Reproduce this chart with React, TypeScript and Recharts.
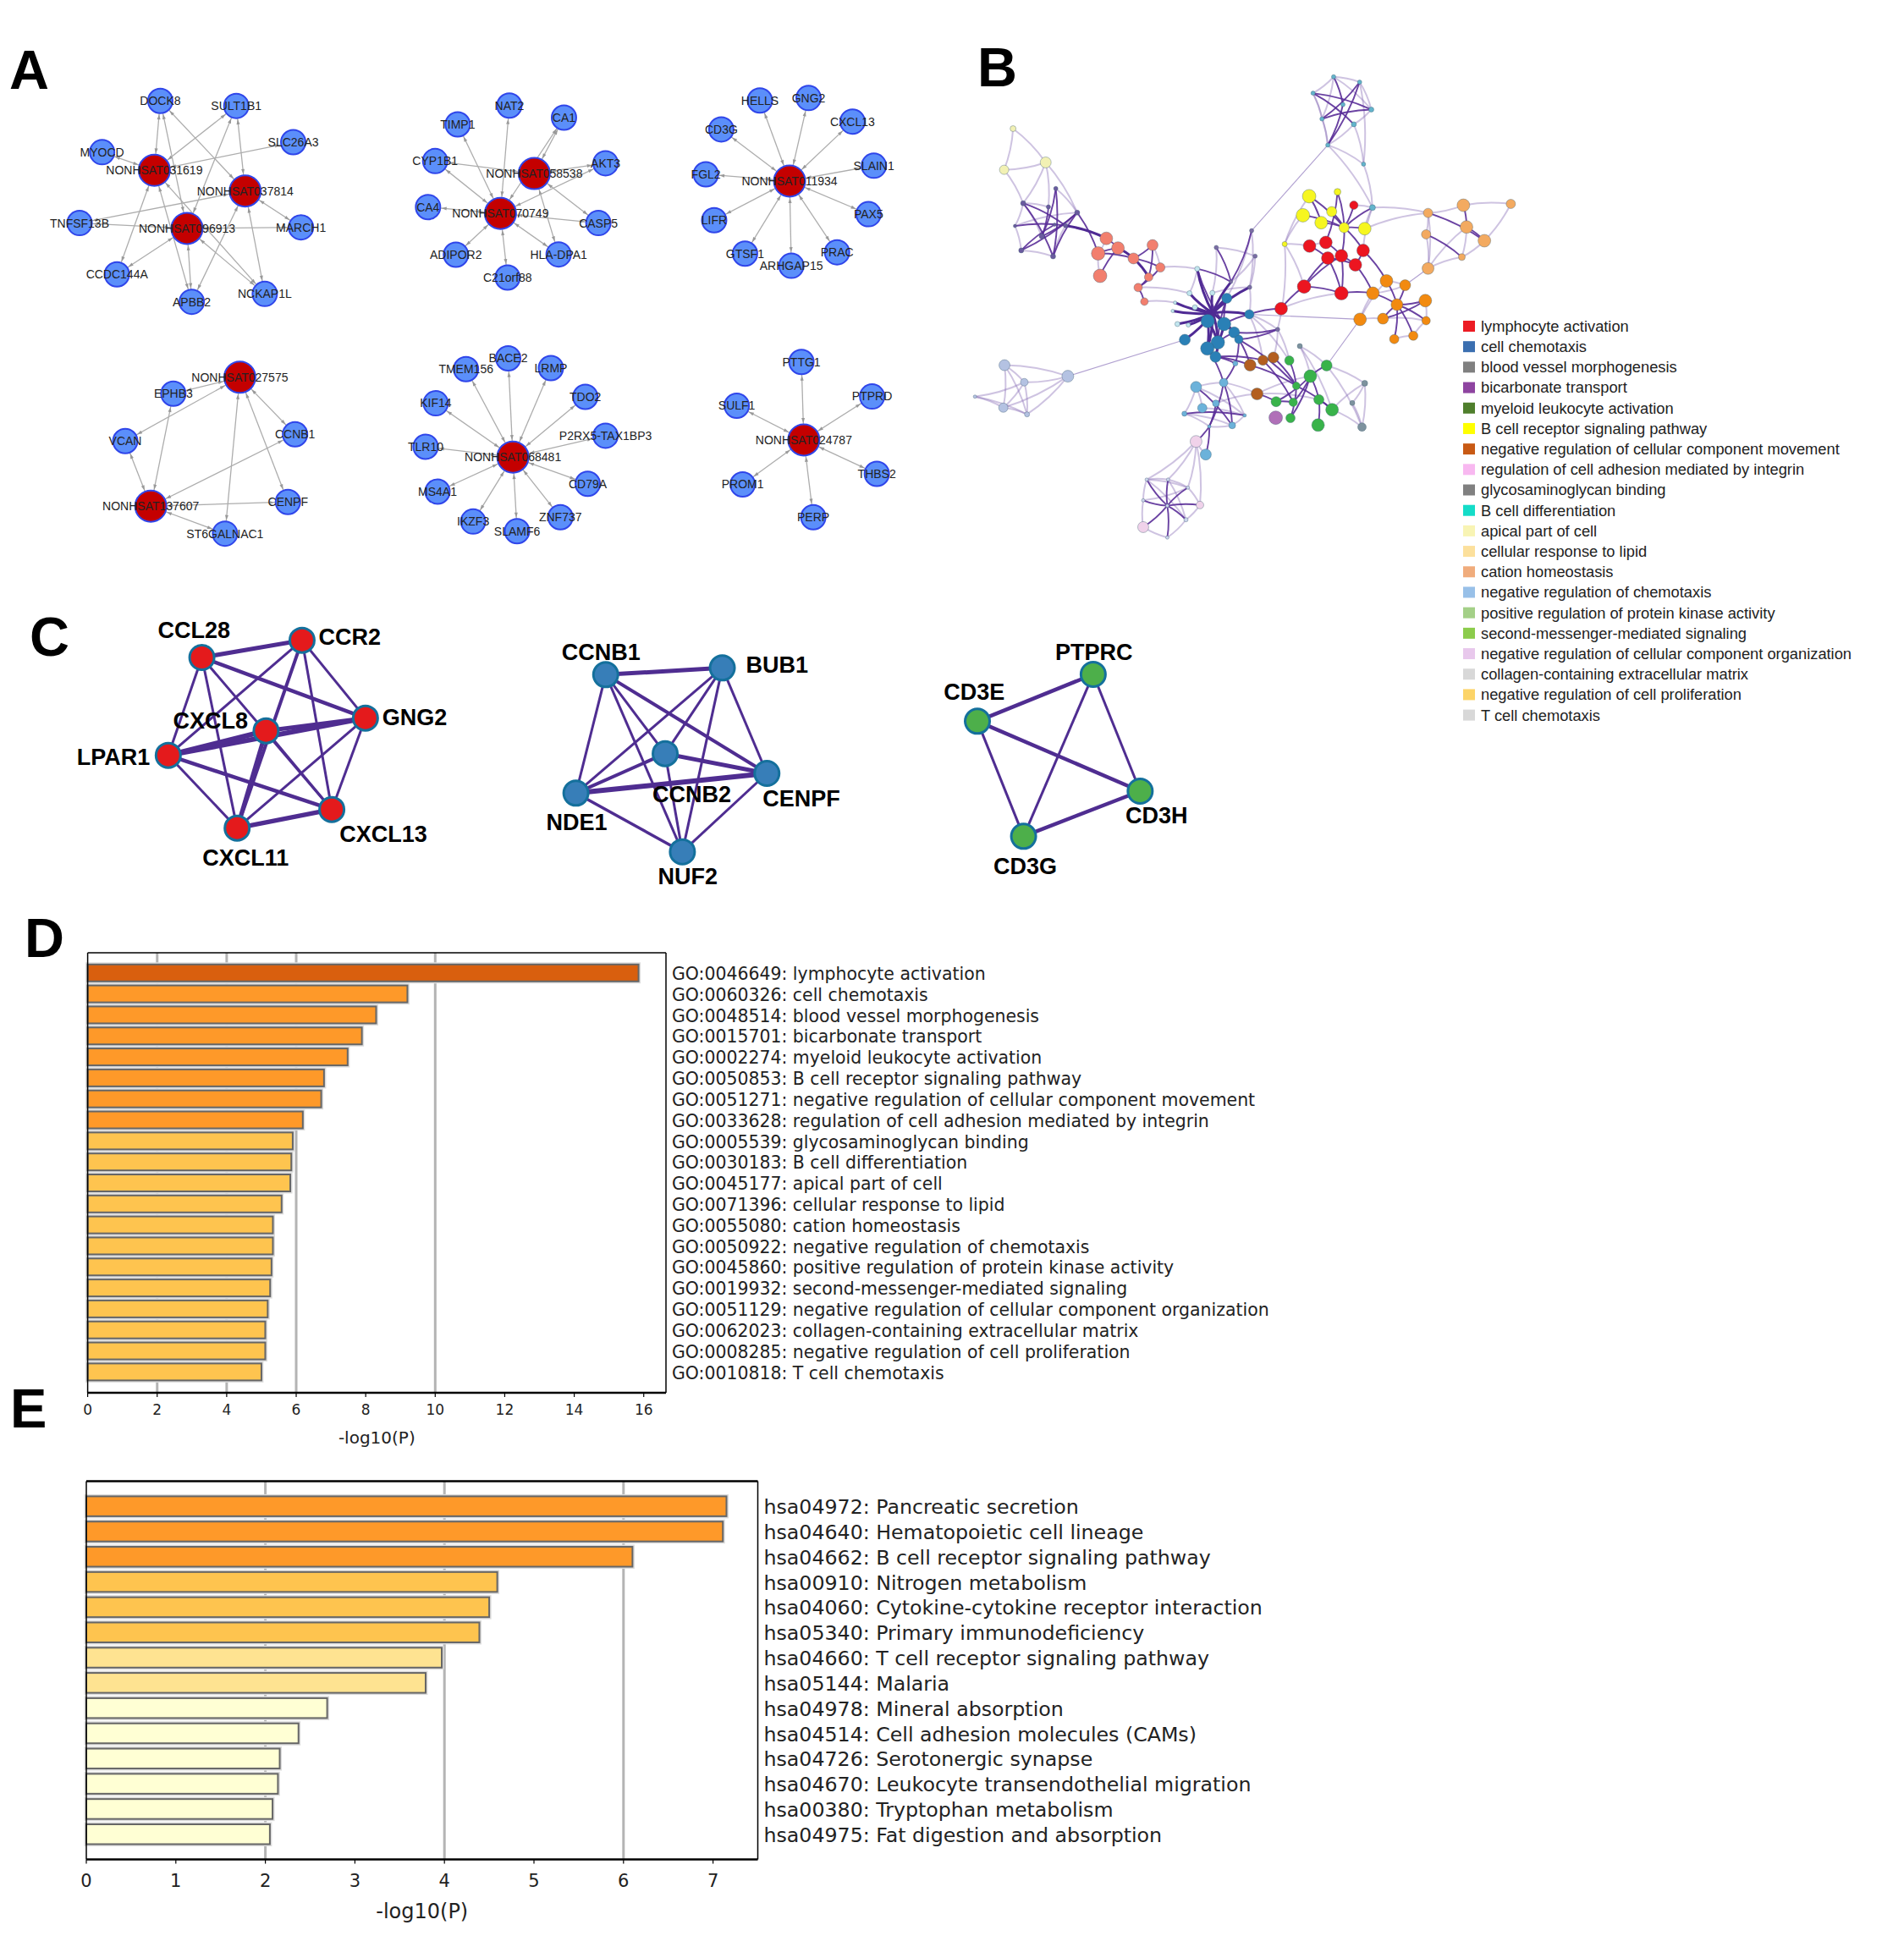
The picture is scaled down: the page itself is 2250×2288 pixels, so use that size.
import React from "react";
import {
  BarChart,
  Bar,
  Cell,
  CartesianGrid,
  XAxis,
  YAxis,
  ScatterChart,
  Scatter,
  ReferenceLine,
} from "recharts";

const SANS = "'Liberation Sans', Arial, sans-serif";
const DEJAVU = "'DejaVu Sans', sans-serif";

// ---- panel A: lncRNA / mRNA networks (name, x, y in layout units)
type Pt = [string, number, number];

const aLncRna: Pt[] = [
  ["NONHSAT031619", 260, 407],
  ["NONHSAT037814", 413, 465],
  ["NONHSAT096913", 315, 570],
  ["NONHSAT058538", 900, 416],
  ["NONHSAT070749", 843, 528],
  ["NONHSAT011934", 1330, 437],
  ["NONHSAT027575", 404, 988],
  ["NONHSAT137607", 254, 1350],
  ["NONHSAT068481", 864, 1212],
  ["NONHSAT024787", 1354, 1164],
];

const aGenes: Pt[] = [
  ["DOCK8", 270, 212],
  ["SULT1B1", 398, 226],
  ["SLC26A3", 494, 328],
  ["MYOCD", 172, 356],
  ["TNFSF13B", 134, 555],
  ["MARCH1", 507, 567],
  ["CCDC144A", 197, 699],
  ["APBB2", 323, 776],
  ["NCKAP1L", 446, 754],
  ["TIMP1", 771, 278],
  ["NAT2", 858, 225],
  ["CA1", 950, 259],
  ["CYP1B1", 733, 381],
  ["AKT3", 1020, 387],
  ["CA4", 721, 510],
  ["CASP5", 1008, 555],
  ["ADIPOR2", 768, 644],
  ["HLA-DPA1", 941, 643],
  ["C21orf88", 855, 708],
  ["HELLS", 1280, 211],
  ["GNG2", 1362, 204],
  ["CD3G", 1215, 292],
  ["CXCL13", 1436, 270],
  ["FGL2", 1189, 418],
  ["SLAIN1", 1472, 394],
  ["LIFR", 1203, 547],
  ["PAX5", 1463, 530],
  ["GTSF1", 1255, 641],
  ["ARHGAP15", 1333, 675],
  ["PRAC", 1410, 637],
  ["EPHB3", 292, 1034],
  ["VCAN", 211, 1167],
  ["CCNB1", 497, 1148],
  ["CENPF", 485, 1338],
  ["ST6GALNAC1", 379, 1427],
  ["BACE2", 856, 935],
  ["TMEM156", 785, 965],
  ["LRMP", 928, 962],
  ["TDO2", 986, 1043],
  ["KIF14", 734, 1061],
  ["TLR10", 717, 1183],
  ["P2RX5-TAX1BP3", 1020, 1152],
  ["CD79A", 990, 1287],
  ["MS4A1", 737, 1309],
  ["IKZF3", 797, 1393],
  ["SLAMF6", 871, 1420],
  ["ZNF737", 944, 1381],
  ["PTTG1", 1350, 945],
  ["PTPRD", 1469, 1042],
  ["SULF1", 1241, 1068],
  ["THBS2", 1477, 1259],
  ["PROM1", 1251, 1289],
  ["PERP", 1370, 1381],
];

// each lncRNA with the genes it links to
const aLinks: [string, string[]][] = [
  ["NONHSAT031619", ["DOCK8", "SULT1B1", "SLC26A3", "MYOCD", "CCDC144A", "APBB2", "NCKAP1L"]],
  ["NONHSAT037814", ["DOCK8", "SULT1B1", "TNFSF13B", "MARCH1", "APBB2", "NCKAP1L"]],
  ["NONHSAT096913", ["DOCK8", "SULT1B1", "TNFSF13B", "MARCH1", "CCDC144A", "APBB2", "NCKAP1L"]],
  ["NONHSAT058538", ["CA1", "CYP1B1", "AKT3", "CASP5", "HLA-DPA1"]],
  ["NONHSAT070749", ["TIMP1", "NAT2", "CA1", "CYP1B1", "AKT3", "CA4", "CASP5", "ADIPOR2", "HLA-DPA1", "C21orf88"]],
  ["NONHSAT011934", ["HELLS", "GNG2", "CD3G", "CXCL13", "FGL2", "SLAIN1", "LIFR", "PAX5", "GTSF1", "ARHGAP15", "PRAC"]],
  ["NONHSAT027575", ["EPHB3", "VCAN", "CCNB1", "CENPF", "ST6GALNAC1"]],
  ["NONHSAT137607", ["EPHB3", "VCAN", "CCNB1", "CENPF", "ST6GALNAC1"]],
  ["NONHSAT068481", ["BACE2", "TMEM156", "LRMP", "TDO2", "KIF14", "TLR10", "P2RX5-TAX1BP3", "CD79A", "MS4A1", "IKZF3", "SLAMF6", "ZNF737"]],
  ["NONHSAT024787", ["PTTG1", "PTPRD", "SULF1", "THBS2", "PROM1", "PERP"]],
];

// ---- panel B: enrichment network, one small list per term group (x, y, radius)
type BN = [number, number, number];
const bTop: BN[] = [[993,103,2.5],[1060,119,2.5],[940,152,2.5],[1090,201,3],[1017,186,2.5],[963,229,2.5],[1045,245,3],[978,307,2.5],[1070,364,2.5],[1093,494,3.5]];
const bPale: BN[] = [[168,258,3.5],[252,359,6.5],[145,381,5.5]];
const bSlate: BN[] = [[278,437,2.5],[194,481,3],[259,492,2.5],[333,509,3],[173,549,2],[303,548,2.5],[242,580,3],[189,622,3],[271,640,3],[275,545,2]];
const bSalmon: BN[] = [[408,586,7.5],[438,615,7.5],[527,606,6.5],[387,631,8],[478,646,6.5],[547,673,5.5],[392,698,8],[517,702,5],[490,733,5],[506,775,4.5]];
const bLight: BN[] = [[642,677,3],[622,750,3],[681,749,3],[636,792,3],[585,778,2],[579,803,2],[591,842,3],[619,845,2.5]];
const bBlue: BN[] = [[718,765,6],[776,813,5.5],[669,833,8],[711,842,8],[737,867,6.5],[749,888,5],[610,889,6.5],[695,897,8],[668,915,8],[689,940,6.5]];
const bPurple: BN[] = [[782,563,2.5],[691,613,2.5],[791,639,2.5],[729,716,2],[777,732,2.5],[849,858,2.5]];
const bRed: BN[] = [[1045,487,5],[931,609,7.5],[973,598,7.5],[978,645,7.5],[1013,638,7.5],[1069,622,7.5],[1049,665,7.5],[917,730,8],[1013,750,8],[858,796,7.5]];
const bYellow: BN[] = [[930,460,8],[1003,447,4],[914,517,8],[988,506,6],[961,539,7.5],[1020,554,6],[1073,557,7.5],[867,603,3]];
const bTan: BN[] = [[1327,487,7.5],[1449,483,5.5],[1236,510,5.5],[1335,552,7.5],[1231,574,5.5],[1381,593,7.5],[1323,642,4],[1236,676,7]];
const bOrange: BN[] = [[1129,713,7.5],[1177,726,6.5],[1094,750,7.5],[1156,784,7],[1229,772,7.5],[1061,828,7.5],[1120,826,6.5],[1231,832,5],[1149,887,5.5],[1198,877,5.5]];
const bBrown: BN[] = [[778,965,7],[811,950,6],[838,942,6.5],[796,1051,7]];
const bGreen: BN[] = [[879,951,5.5],[975,966,6.5],[933,998,7.5],[897,1027,4.5],[845,1074,6],[889,1076,5],[955,1068,6],[989,1098,7.5],[882,1123,5.5],[953,1144,7.5]];
const bViolet: BN[] = [[844,1122,8]];
const bGray: BN[] = [[906,908,3],[1073,1019,3.5],[1041,1078,3],[1066,1150,5]];
const bLavender: BN[] = [[146,965,6.5],[309,998,7],[197,1016,4.5],[70,1059,2],[143,1092,5.5],[204,1112,3]];
const bSky: BN[] = [[639,1030,6.5],[710,1017,5],[655,1093,5.5],[690,1079,4],[609,1110,3],[764,1115,2],[732,1145,4],[673,1148,2],[740,960,3],[664,1232,6.5]];
const bPink: BN[] = [[639,1193,7],[649,1383,4.5],[503,1449,6.5]];
const bMist: BN[] = [[512,1307,2],[567,1307,2],[618,1331,2],[503,1369,2],[565,1385,2],[613,1427,2.5],[565,1480,2]];
// the point where the central bundle of edges meets
const bCore: BN[] = [[682,809,0]];

const bGroups: [string, BN[], string][] = [
  ["T", bTop, "#63b4cc"],
  ["Y", bPale, "#f2f1b4"],
  ["L", bSlate, "#6a5a9f"],
  ["S", bSalmon, "#f27f6e"],
  ["W", bLight, "#c2e6ee"],
  ["B", bBlue, "#2a80b6"],
  ["P", bPurple, "#7c6ca4"],
  ["R", bRed, "#ec1520"],
  ["G", bYellow, "#f6f620"],
  ["A", bTan, "#f3aa60"],
  ["O", bOrange, "#f28a10"],
  ["N", bBrown, "#b35f20"],
  ["E", bGreen, "#39b34a"],
  ["V", bViolet, "#b070b8"],
  ["K", bGray, "#7d929e"],
  ["I", bLavender, "#b4c2e2"],
  ["D", bSky, "#6cb2da"],
  ["H", bPink, "#f0d2ea"],
  ["M", bMist, "#ccd4ec"],
  ["X", bCore, "#4b2a90"],
];

const bHeavy =
  "X0-W0 X0-W1 X0-W2 X0-W3 X0-W4 X0-W5 X0-W6 X0-W7 X0-B0 X0-B1 X0-B2 X0-B3 X0-B4 X0-B7 X0-B6 X0-P3 X0-P4 " +
  "X0-B8 B3-B7 B2-B7 B2-B8 B7-B9 L5-S0 S1-S4 S4-S7";

const bStrong =
  "T0-T4 T2-T3 T4-T7 T1-T5 T1-T7 T2-T6 T5-T3 " +
  "L0-L8 L1-L5 L4-L5 L1-L8 L3-L7 L2-L6 L3-L6 L0-L6 L7-L9 L8-L3 L3-S3 " +
  "S0-S1 S3-S1 S6-S1 S4-S5 S2-S7 S2-S4 S5-S8 S7-S8 S8-S9 S3-S4 " +
  "B3-B0 B3-W0 B3-B5 B3-B1 B7-B4 B7-B0 W0-P3 P0-P3 P1-P3 " +
  "B1-R9 R9-R7 R7-R3 R7-R4 R7-R8 R3-R8 R2-R4 R4-R6 R1-R3 R3-R6 R5-R6 R6-O2 R8-O2 R5-O0 R4-R8 " +
  "G1-G5 G0-G5 G2-G5 G4-G5 G5-G6 G5-T9 G3-G5 G5-R4 G5-R5 G0-G4 G1-R2 R0-G5 " +
  "A0-A3 A2-A5 A4-A6 A3-A5 " +
  "O0-O3 O1-O3 O2-O3 O4-O6 O3-O8 O3-O9 O3-O7 O4-O3 O6-O3 " +
  "N0-E3 N1-E5 N2-E3 N3-E4 E2-E1 E2-E4 E2-E5 E2-E8 E2-E6 E6-E9 E3-E8 E4-E5 E6-E7 E3-E7 E0-E3 B9-N0 B9-N1 B5-N0 B5-E3 P5-B4 P5-B5 " +
  "D1-D7 D4-D5 D3-D7 D0-D6 D1-D6 D7-D9 D8-D1 B9-D8 B8-D1 B5-D8 D7-H0 " +
  "M4-M0 M4-M1 M4-M2 M4-M3 M4-H1 M4-M5 M4-H2 M4-M6";

const bWeak =
  "T0-T1 T0-T2 T1-T3 T2-T5 T3-T6 T5-T7 T6-T7 T6-T8 T1-T8 T7-T8 T7-T9 T8-T9 T0-T5 T0-T3 T2-T7 " +
  "Y1-Y2 Y0-Y1 Y0-Y2 Y1-L3 Y1-L1 Y2-L1 Y1-L2 " +
  "L1-L4 L4-L7 L7-L8 L8-L5 L5-L3 L0-L3 L1-L2 L1-L6 L4-L3 " +
  "S2-S5 S6-S3 S0-S3 S5-W0 S8-W1 S9-W4 " +
  "P0-P4 P1-P2 P2-P3 P2-P4 W0-W1 W2-P4 P1-W2 P4-B1 P0-B0 " +
  "R9-R8 G7-G0 G7-G2 G7-R1 G7-R7 G7-P5 R0-T9 G6-T9 R5-T9 R1-R2 " +
  "T9-A2 G6-A2 A0-A2 A0-A1 A1-A5 A2-A4 A4-A7 A2-A7 A7-A3 A7-A6 A3-A6 A5-A6 " +
  "O5-O0 O5-O2 O5-O6 O6-O7 O8-O9 O9-O7 O4-O7 O0-O1 O1-O2 " +
  "P5-N2 B1-P5 B1-N1 B1-E0 P5-E0 " +
  "K0-E1 E1-K1 E1-K3 E7-K1 K1-K3 K1-K2 K2-K3 E7-K3 K0-E2 K0-E7 N3-E2 N3-E6 " +
  "I0-I1 I0-I2 I0-I4 I0-I5 I1-I2 I1-I4 I1-I5 I2-I3 I2-I4 I2-I5 I3-I4 I3-I5 I4-I5 " +
  "D0-D1 D0-D4 D0-D2 D2-D5 D4-D7 D6-D7 D5-D6 D1-N3 D3-N3 D0-D5 D1-D5 D4-D6 " +
  "H0-M1 H0-M0 H0-M2 H0-H1 D9-H0 " +
  "M0-M1 M1-M2 M2-H1 H1-M5 M5-M6 M6-H2 H2-M3 M3-M0 M0-M5 M1-M5 M2-M3 M0-M2";

// long thin links between clusters, these run nearly straight
const bBridges = "T7-P0 I1-B6 B1-O5 O5-E1 A7-O1";

// ---- panel B legend
const legendTerms = [
  "lymphocyte activation",
  "cell chemotaxis",
  "blood vessel morphogenesis",
  "bicarbonate transport",
  "myeloid leukocyte activation",
  "B cell receptor signaling pathway",
  "negative regulation of cellular component movement",
  "regulation of cell adhesion mediated by integrin",
  "glycosaminoglycan binding",
  "B cell differentiation",
  "apical part of cell",
  "cellular response to lipid",
  "cation homeostasis",
  "negative regulation of chemotaxis",
  "positive regulation of protein kinase activity",
  "second-messenger-mediated signaling",
  "negative regulation of cellular component organization",
  "collagen-containing extracellular matrix",
  "negative regulation of cell proliferation",
  "T cell chemotaxis",
];
const legendColors = [
  "#ec1c24", "#3b6fb0", "#808080", "#8e44a0", "#4f7f2c",
  "#ffff00", "#c85a14", "#f8b8f0", "#808080", "#14dcc8",
  "#f8f4b4", "#fce09c", "#f0ac7c", "#98c0e8", "#a4d088",
  "#8ccc4c", "#e8c8ec", "#d8d8d8", "#fcd468", "#d8d8d8",
];

// ---- panel C: PPI modules (name, x, y, label x, label y)
type CN = [string, number, number, number, number];
const cRedNodes: CN[] = [
  ["CCL28", 258, 231, 248, 135],
  ["CCR2", 386, 170, 447, 158],
  ["GNG2", 467, 446, 530, 442],
  ["CXCL8", 340, 491, 269, 455],
  ["LPAR1", 215, 578, 145, 585],
  ["CXCL11", 303, 836, 314, 940],
  ["CXCL13", 424, 770, 490, 857],
];
const cBlueNodes: CN[] = [
  ["CCNB1", 774, 292, 768, 212],
  ["BUB1", 923, 268, 993, 258],
  ["CCNB2", 850, 572, 884, 716],
  ["CENPF", 980, 642, 1024, 730],
  ["NDE1", 736, 712, 737, 816],
  ["NUF2", 872, 920, 879, 1007],
];
const cGreenNodes: CN[] = [
  ["PTPRC", 1397, 291, 1398, 211],
  ["CD3E", 1249, 457, 1245, 354],
  ["CD3H", 1457, 705, 1478, 792],
  ["CD3G", 1308, 865, 1310, 970],
];
const cEdges: [string, string, number][] = [
  ["CCL28", "CCR2", 5], ["CCL28", "GNG2", 4.5], ["CCL28", "LPAR1", 3], ["CCL28", "CXCL11", 3], ["CCL28", "CXCL13", 3],
  ["CCR2", "LPAR1", 3], ["CCR2", "CXCL11", 4], ["CCR2", "GNG2", 3], ["CCR2", "CXCL13", 3],
  ["GNG2", "CXCL8", 5], ["GNG2", "LPAR1", 6], ["GNG2", "CXCL11", 3], ["GNG2", "CXCL13", 3],
  ["CXCL8", "LPAR1", 6], ["CXCL8", "CXCL11", 5], ["CXCL8", "CXCL13", 3],
  ["LPAR1", "CXCL11", 3], ["LPAR1", "CXCL13", 4.5], ["CXCL11", "CXCL13", 5.5],
  ["CCNB1", "BUB1", 5], ["CCNB1", "CENPF", 4], ["CCNB1", "NDE1", 3], ["CCNB1", "CCNB2", 3], ["CCNB1", "NUF2", 3],
  ["BUB1", "NDE1", 3], ["BUB1", "CCNB2", 3], ["BUB1", "CENPF", 3], ["BUB1", "NUF2", 3],
  ["CCNB2", "NDE1", 4], ["CCNB2", "CENPF", 5], ["CCNB2", "NUF2", 3],
  ["CENPF", "NDE1", 6], ["CENPF", "NUF2", 3], ["NDE1", "NUF2", 3.5],
  ["CD3E", "PTPRC", 4.5], ["CD3E", "CD3H", 4.5], ["CD3E", "CD3G", 3],
  ["PTPRC", "CD3G", 3], ["PTPRC", "CD3H", 3], ["CD3G", "CD3H", 4.5],
];

// ---- panel D
const goLabels = [
  "GO:0046649: lymphocyte activation",
  "GO:0060326: cell chemotaxis",
  "GO:0048514: blood vessel morphogenesis",
  "GO:0015701: bicarbonate transport",
  "GO:0002274: myeloid leukocyte activation",
  "GO:0050853: B cell receptor signaling pathway",
  "GO:0051271: negative regulation of cellular component movement",
  "GO:0033628: regulation of cell adhesion mediated by integrin",
  "GO:0005539: glycosaminoglycan binding",
  "GO:0030183: B cell differentiation",
  "GO:0045177: apical part of cell",
  "GO:0071396: cellular response to lipid",
  "GO:0055080: cation homeostasis",
  "GO:0050922: negative regulation of chemotaxis",
  "GO:0045860: positive regulation of protein kinase activity",
  "GO:0019932: second-messenger-mediated signaling",
  "GO:0051129: negative regulation of cellular component organization",
  "GO:0062023: collagen-containing extracellular matrix",
  "GO:0008285: negative regulation of cell proliferation",
  "GO:0010818: T cell chemotaxis",
];
const goValues = [15.85, 9.2, 8.3, 7.89, 7.48, 6.8, 6.72, 6.19, 5.9, 5.86, 5.83, 5.58, 5.33, 5.33, 5.29, 5.25, 5.18, 5.11, 5.11, 5.0];
const goColors = [
  "#d95f0e", "#fe9929", "#fe9929", "#fe9929", "#fe9929", "#fe9929", "#fe9929", "#fe9929",
  "#fec44f", "#fec44f", "#fec44f", "#fec44f", "#fec44f", "#fec44f", "#fec44f", "#fec44f", "#fec44f", "#fec44f", "#fec44f", "#fec44f",
];
const goTicks = [0, 2, 4, 6, 8, 10, 12, 14, 16];
const goGrid = [2, 4, 6, 10];

// ---- panel E
const keggLabels = [
  "hsa04972: Pancreatic secretion",
  "hsa04640: Hematopoietic cell lineage",
  "hsa04662: B cell receptor signaling pathway",
  "hsa00910: Nitrogen metabolism",
  "hsa04060: Cytokine-cytokine receptor interaction",
  "hsa05340: Primary immunodeficiency",
  "hsa04660: T cell receptor signaling pathway",
  "hsa05144: Malaria",
  "hsa04978: Mineral absorption",
  "hsa04514: Cell adhesion molecules (CAMs)",
  "hsa04726: Serotonergic synapse",
  "hsa04670: Leukocyte transendothelial migration",
  "hsa00380: Tryptophan metabolism",
  "hsa04975: Fat digestion and absorption",
];
const keggValues = [7.15, 7.11, 6.1, 4.59, 4.5, 4.39, 3.97, 3.79, 2.69, 2.37, 2.16, 2.14, 2.08, 2.05];
const keggColors = [
  "#fe9929", "#fe9929", "#fe9929", "#fec44f", "#fec44f", "#fec44f", "#fee391",
  "#fee391", "#ffffd4", "#ffffd4", "#ffffd4", "#ffffd4", "#ffffd4", "#ffffd4",
];
const keggTicks = [0, 1, 2, 3, 4, 5, 6, 7];
const keggGrid = [2, 4, 6];

const panelLetters: [string, number, number][] = [
  ["A", 11, 105],
  ["B", 1155, 102],
  ["C", 35, 775],
  ["D", 29, 1131],
  ["E", 12, 1687],
];

// curved purple edge of the enrichment map
const CurvedEdge = (p: any) => {
  const mx = (p.x1 + p.x2) / 2 + (p.y2 - p.y1) * 0.08;
  const my = (p.y1 + p.y2) / 2 - (p.x2 - p.x1) * 0.08;
  return (
    <path
      d={`M${p.x1},${p.y1} Q${mx},${my} ${p.x2},${p.y2}`}
      fill="none"
      stroke={p.stroke}
      strokeWidth={p.strokeWidth}
      strokeOpacity={p.strokeOpacity}
    />
  );
};

// grey edge with the small arrow heads Cytoscape leaves at both nodes
const ArrowEdge = (p: any) => {
  const dx = p.x2 - p.x1;
  const dy = p.y2 - p.y1;
  const len = Math.hypot(dx, dy) || 1;
  const ux = dx / len;
  const uy = dy / len;
  const head = (tipX: number, tipY: number, dir: number) => {
    const bx = tipX - dir * ux * 6;
    const by = tipY - dir * uy * 6;
    return `${tipX},${tipY} ${bx - uy * 2},${by + ux * 2} ${bx + uy * 2},${by - ux * 2}`;
  };
  return (
    <g>
      <line x1={p.x1} y1={p.y1} x2={p.x2} y2={p.y2} stroke="#adadad" strokeWidth={1.3} />
      <polygon points={head(p.x1 + ux * 20, p.y1 + uy * 20, -1)} fill="#999" />
      <polygon points={head(p.x2 - ux * 16, p.y2 - uy * 16, 1)} fill="#999" />
    </g>
  );
};

const PanelA = () => {
  const pos = new Map<string, Pt>();
  [...aLncRna, ...aGenes].forEach((n) => pos.set(n[0], n));
  const toPoint = (n: Pt) => ({ name: n[0], x: n[1], y: n[2] });
  const node = (fill: string, r: number) => (p: any) =>
    <circle cx={p.cx} cy={p.cy} r={r} fill={fill} stroke="#2f45ea" strokeWidth={2} />;
  const nodeLabel = (p: any) => (
    <text x={p.cx} y={p.cy} dy="0.35em" textAnchor="middle" fontFamily={SANS} fontSize={14} fill="#222">
      {p.payload.name}
    </text>
  );
  return (
    <ScatterChart width={1100} height={660} margin={{ top: 0, right: 0, bottom: 0, left: 0 }}>
      <XAxis type="number" dataKey="x" domain={[0, 1568]} hide />
      <YAxis type="number" dataKey="y" domain={[0, 1568]} reversed hide />
      {aLinks.flatMap(([hub, genes]) =>
        genes.map((g) => {
          const a = pos.get(hub)!;
          const b = pos.get(g)!;
          return (
            <ReferenceLine
              key={hub + g}
              segment={[{ x: a[1], y: a[2] }, { x: b[1], y: b[2] }]}
              shape={ArrowEdge}
            />
          );
        })
      )}
      <Scatter data={aGenes.map(toPoint)} shape={node("#5b8ffa", 14.5)} isAnimationActive={false} />
      <Scatter data={aLncRna.map(toPoint)} shape={node("#c40000", 18.5)} isAnimationActive={false} />
      <Scatter data={[...aGenes, ...aLncRna].map(toPoint)} shape={nodeLabel} isAnimationActive={false} />
    </ScatterChart>
  );
};

const PanelB = () => {
  const pos = new Map<string, BN>();
  bGroups.forEach(([prefix, list]) => list.forEach((n, i) => pos.set(prefix + i, n)));
  const lines = (edges: string, stroke: string, width: number, opacity: number, curved = true) =>
    edges.split(" ").map((e) => {
      const [a, b] = e.split("-");
      const pa = pos.get(a)!;
      const pb = pos.get(b)!;
      return (
        <ReferenceLine
          key={e + width}
          segment={[{ x: pa[0], y: pa[1] }, { x: pb[0], y: pb[1] }]}
          stroke={stroke}
          strokeWidth={width}
          strokeOpacity={opacity}
          shape={curved ? CurvedEdge : undefined}
        />
      );
    });
  const node = (fill: string) => (p: any) =>
    <circle cx={p.cx} cy={p.cy} r={p.payload.r} fill={fill} stroke="#3f5f70" strokeOpacity={0.55} strokeWidth={0.7} />;
  return (
    <ScatterChart width={720} height={620} margin={{ top: 0, right: 0, bottom: 0, left: 0 }}>
      <XAxis type="number" dataKey="x" domain={[0, 1568]} hide />
      <YAxis type="number" dataKey="y" domain={[0, 1568]} reversed hide />
      {lines(bBridges, "#9c88c4", 1.1, 0.8, false)}
      {lines(bWeak, "#8a70b8", 2, 0.42)}
      {lines(bStrong, "#5a2e98", 1.9, 0.9)}
      {lines(bHeavy, "#4f2a94", 3, 1)}
      {bGroups.filter((g) => g[0] !== "X").map(([prefix, list, fill]) => (
        <Scatter
          key={prefix}
          data={list.map((n) => ({ x: n[0], y: n[1], r: n[2] }))}
          shape={node(fill)}
          isAnimationActive={false}
        />
      ))}
    </ScatterChart>
  );
};

const PanelC = () => {
  const pos = new Map<string, CN>();
  [...cRedNodes, ...cBlueNodes, ...cGreenNodes].forEach((n) => pos.set(n[0], n));
  const toPoint = (n: CN) => ({ x: n[1], y: n[2] });
  const node = (fill: string) => (p: any) =>
    <circle cx={p.cx} cy={p.cy} r={14.5} fill={fill} stroke="#14709c" strokeWidth={3} />;
  const nodeLabel = (p: any) => (
    <text x={p.cx} y={p.cy} dy="0.35em" textAnchor="middle" fontFamily={SANS} fontWeight="bold" fontSize={27} fill="#000">
      {p.payload.name}
    </text>
  );
  const labels = [...cRedNodes, ...cBlueNodes, ...cGreenNodes].map((n) => ({ name: n[0], x: n[3], y: n[4] }));
  return (
    <ScatterChart width={1450} height={360} margin={{ top: 0, right: 0, bottom: 0, left: 0 }}>
      <XAxis type="number" dataKey="x" domain={[0, 1568]} hide />
      <YAxis type="number" dataKey="y" domain={[0, 1080]} reversed hide />
      {cEdges.map(([a, b, w]) => {
        const pa = pos.get(a)!;
        const pb = pos.get(b)!;
        return (
          <ReferenceLine
            key={a + b}
            segment={[{ x: pa[1], y: pa[2] }, { x: pb[1], y: pb[2] }]}
            stroke="#4f2d91"
            strokeWidth={w}
          />
        );
      })}
      <Scatter data={cRedNodes.map(toPoint)} shape={node("#e41a1c")} isAnimationActive={false} />
      <Scatter data={cBlueNodes.map(toPoint)} shape={node("#377eb8")} isAnimationActive={false} />
      <Scatter data={cGreenNodes.map(toPoint)} shape={node("#4daf4a")} isAnimationActive={false} />
      <Scatter data={labels} shape={nodeLabel} isAnimationActive={false} />
    </ScatterChart>
  );
};

// bar with the pale grey halo of the source image
const HaloBar = (p: any) => (
  <g>
    <rect x={p.x} y={p.y} width={p.width} height={p.height} fill="none" stroke="#dcdcdc" strokeWidth={5} />
    <rect x={p.x} y={p.y} width={p.width} height={p.height} fill={p.fill} stroke="#666" strokeWidth={2} />
  </g>
);

interface EnrichmentBarsProps {
  labels: string[];
  values: number[];
  colors: string[];
  ticks: number[];
  grid: number[];
  maxX: number;
  width: number;
  height: number;
  margin: { top: number; left: number };
  labelWidth: number;
  axisHeight: number;
  yPad: number;
  barSize: number;
  labelFont: number;
  tickFont: number;
  tickGap: number;
  titleFont: number;
  titleOffset: number;
  topStroke: number;
}

const EnrichmentBars: React.FC<EnrichmentBarsProps> = (props) => {
  const data = props.labels.map((label, i) => ({ label, value: props.values[i] }));
  const labelTick = (p: any) => (
    <text x={p.x} y={p.y + 0.6} dy="0.35em" textAnchor="start" fontFamily={DEJAVU} fontSize={props.labelFont} fill="#222">
      {p.payload.value}
    </text>
  );
  return (
    <BarChart
      layout="vertical"
      width={props.width}
      height={props.height}
      data={data}
      margin={{ top: props.margin.top - 1, left: props.margin.left - 1, right: 0, bottom: 0 }}
      barCategoryGap={0}
    >
      <CartesianGrid horizontal={false} verticalValues={props.grid} stroke="#b4b4b4" strokeWidth={3} />
      <XAxis
        type="number"
        domain={[0, props.maxX]}
        ticks={props.ticks}
        interval={0}
        height={props.axisHeight}
        axisLine={{ stroke: "#000", strokeWidth: 2.5 }}
        tickLine={{ stroke: "#000", strokeWidth: 1.2 }}
        tickSize={5}
        tickMargin={props.tickGap}
        tick={{ fontFamily: DEJAVU, fontSize: props.tickFont, fill: "#222" }}
        label={{
          value: "-log10(P)",
          position: "insideTop",
          offset: props.titleOffset,
          style: { fontFamily: DEJAVU, fontSize: props.titleFont, fill: "#222" },
        }}
      />
      <XAxis
        xAxisId="frameTop"
        orientation="top"
        type="number"
        domain={[0, 1]}
        height={1}
        tick={false}
        tickLine={false}
        axisLine={{ stroke: "#000", strokeWidth: props.topStroke }}
      />
      <YAxis
        type="category"
        dataKey="label"
        orientation="right"
        width={props.labelWidth}
        interval={0}
        padding={{ top: props.yPad, bottom: props.yPad }}
        tickLine={false}
        tickMargin={1}
        axisLine={{ stroke: "#000", strokeWidth: 1.5 }}
        tick={labelTick}
      />
      <YAxis
        yAxisId="frameLeft"
        orientation="left"
        type="number"
        domain={[0, 1]}
        width={1}
        tick={false}
        tickLine={false}
        axisLine={{ stroke: "#000", strokeWidth: 1.5 }}
      />
      <Bar dataKey="value" barSize={props.barSize} shape={HaloBar} isAnimationActive={false}>
        {data.map((d, i) => (
          <Cell key={d.label} fill={props.colors[i]} />
        ))}
      </Bar>
    </BarChart>
  );
};

const place = (left: number, top: number): React.CSSProperties => ({ position: "absolute", left, top });

export default function App() {
  return (
    <div style={{ position: "absolute", left: 0, top: 0, width: 2250, height: 2288, background: "#fff", overflow: "hidden" }}>
      <div style={place(0, 30)}><PanelA /></div>
      <div style={place(1120, 50)}><PanelB /></div>
      <div style={place(0, 700)}><PanelC /></div>

      <div style={place(0, 1100)}>
        <EnrichmentBars
          labels={goLabels}
          values={goValues}
          colors={goColors}
          ticks={goTicks}
          grid={goGrid}
          maxX={16.64}
          width={1560}
          height={640}
          margin={{ top: 26, left: 103.6 }}
          labelWidth={773}
          axisHeight={94}
          yPad={11.8}
          barSize={20}
          labelFont={20.45}
          tickFont={17}
          tickGap={9}
          titleFont={20}
          titleOffset={46}
          topStroke={1.5}
        />
      </div>

      <div style={place(0, 1720)}>
        <EnrichmentBars
          labels={keggLabels}
          values={keggValues}
          colors={keggColors}
          ticks={keggTicks}
          grid={keggGrid}
          maxX={7.5}
          width={1560}
          height={568}
          margin={{ top: 30.6, left: 102 }}
          labelWidth={664.5}
          axisHeight={90.4}
          yPad={14.8}
          barSize={23.5}
          labelFont={23.7}
          tickFont={21}
          tickGap={12}
          titleFont={24}
          titleOffset={52}
          topStroke={2.5}
        />
      </div>

      <svg width={2250} height={2288} style={{ position: "absolute", left: 0, top: 0, pointerEvents: "none" }}>
        {panelLetters.map(([t, x, y]) => (
          <text key={t} x={x} y={y} fontFamily={SANS} fontWeight="bold" fontSize={65} fill="#000">
            {t}
          </text>
        ))}
        {legendTerms.map((term, i) => (
          <g key={term}>
            <rect x={1729} y={379 + i * 24.19} width={14} height={13} fill={legendColors[i]} />
            <text x={1750} y={385.5 + i * 24.19} dy="0.35em" fontFamily={SANS} fontSize={18.3} fill="#222">
              {term}
            </text>
          </g>
        ))}
      </svg>
    </div>
  );
}
